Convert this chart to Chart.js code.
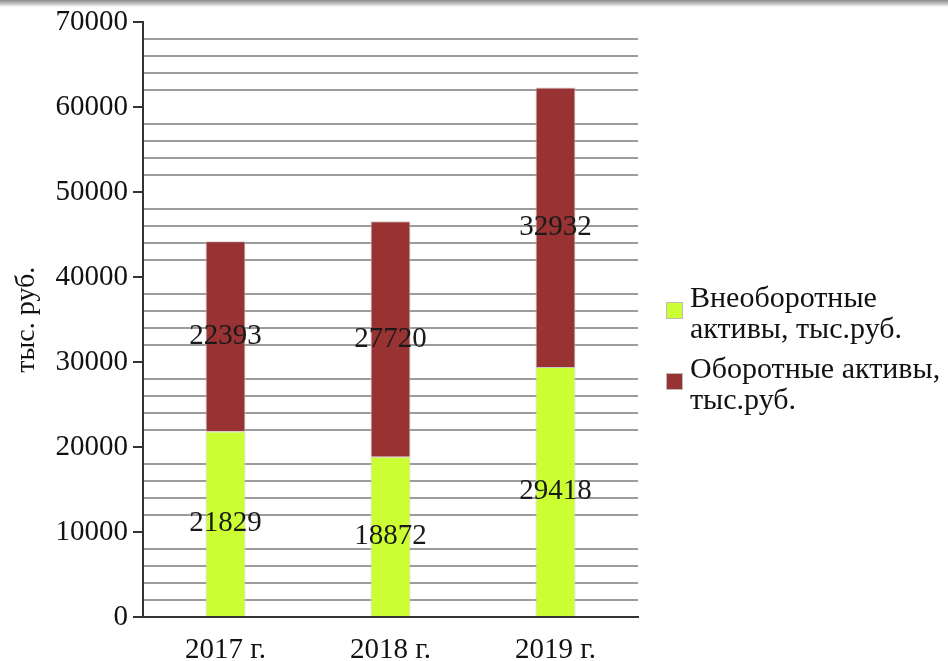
<!DOCTYPE html>
<html lang="ru">
<head>
<meta charset="utf-8">
<title>Активы</title>
<script src="https://cdn.jsdelivr.net/npm/chart.js@4/dist/chart.umd.min.js"></script>
<style>
  html, body { margin: 0; padding: 0; background: #fff; }
  .wrap { position: relative; width: 948px; height: 661px; }
  .shade { position: absolute; left: 0; top: 0; width: 948px; height: 7px;
    background: linear-gradient(#8c8c8c, #d6d6d6 70%, #fff); }
  canvas { position: absolute; left: 0; top: 0; }
  .legend { position: absolute; left: 666px; top: 281px; font-family: "Liberation Serif", serif;
    font-size: 30px; line-height: 31px; color: #111; white-space: nowrap; }
  .legend .item { position: relative; padding-left: 24px; margin-bottom: 9px; }
  .legend .box { position: absolute; left: 0; top: 21px; width: 15px; height: 15px;
    border: 1px solid #bbb; }
</style>
</head>
<body>
<div class="wrap">
  <canvas id="chart" width="948" height="661"></canvas>
  <div class="shade"></div>
  <div class="legend" id="legend"></div>
</div>
<script>
const categories = ["2017 г.", "2018 г.", "2019 г."];
const nonCurrent = [21829, 18872, 29418];
const current = [22393, 27720, 32932];
const seriesNames = [["Внеоборотные", "активы, тыс.руб."], ["Оборотные активы,", "тыс.руб."]];
const seriesColors = ["#ccff33", "#993333"];

const serif = "'Liberation Serif', 'Times New Roman', serif";

const valueLabels = {
  id: "valueLabels",
  afterDatasetsDraw(chart) {
    const ctx = chart.ctx;
    ctx.save();
    ctx.font = "29px " + serif;
    ctx.fillStyle = "#1a1a1a";
    ctx.textAlign = "center";
    ctx.textBaseline = "middle";
    chart.data.datasets.forEach((ds, i) => {
      chart.getDatasetMeta(i).data.forEach((bar, j) => {
        ctx.fillText(String(ds.data[j]), bar.x, (bar.y + bar.base) / 2);
      });
    });
    ctx.restore();
  }
};

function buildLegend() {
  const el = document.getElementById("legend");
  seriesNames.forEach((lines, i) => {
    const item = document.createElement("div");
    item.className = "item";
    const box = document.createElement("span");
    box.className = "box";
    box.style.background = seriesColors[i];
    item.appendChild(box);
    lines.forEach((t) => {
      const line = document.createElement("div");
      line.textContent = t;
      item.appendChild(line);
    });
    el.appendChild(item);
  });
}

function drawChart() {
  new Chart(document.getElementById("chart"), {
    type: "bar",
    data: {
      labels: categories,
      datasets: [
        { label: seriesNames[0].join(" "), data: nonCurrent, backgroundColor: seriesColors[0],
          borderColor: "#c8c8c8", borderWidth: 1 },
        { label: seriesNames[1].join(" "), data: current, backgroundColor: seriesColors[1],
          borderColor: "#c8c8c8", borderWidth: 1 },
      ],
    },
    options: {
      responsive: false,
      animation: false,
      layout: { padding: { top: 22, right: 310, bottom: 0, left: 10 } },
      datasets: { bar: { barPercentage: 0.242, categoryPercentage: 1 } },
      scales: {
        x: {
          stacked: true,
          afterFit: (s) => { s.height = 44; },
          grid: { display: false },
          border: { color: "#333", width: 2 },
          ticks: { color: "#111", font: { family: serif, size: 29 }, padding: 8 },
        },
        y: {
          stacked: true,
          min: 0,
          max: 70000,
          afterFit: (s) => { s.width = 133; },
          border: { color: "#333", width: 2 },
          grid: {
            color: (c) => (c.tick && c.tick.value % 10000 === 0 ? "transparent" : "#9c9c9c"),
            tickColor: (c) => (c.tick && c.tick.value % 10000 === 0 ? "#333" : "transparent"),
            lineWidth: 2,
            tickWidth: 2,
            tickLength: 10,
            drawTicks: true,
          },
          ticks: {
            stepSize: 2000,
            autoSkip: false,
            padding: 5,
            color: "#111",
            font: { family: serif, size: 29 },
            callback: (v) => (v % 10000 === 0 ? String(v) : ""),
          },
          title: {
            display: true,
            text: "тыс. руб.",
            color: "#111",
            font: { family: serif, size: 28 },
            padding: { top: 0, bottom: 0 },
          },
        },
      },
      plugins: { legend: { display: false }, tooltip: { enabled: false } },
    },
    plugins: [valueLabels],
  });
}

window.addEventListener("load", () => {
  buildLegend();
  drawChart();
});
</script>
</body>
</html>
